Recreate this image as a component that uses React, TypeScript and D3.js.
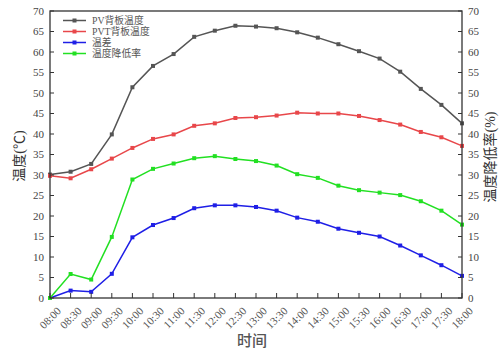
import React from "react";
import * as d3 from "d3";

const times = ["08:00","08:30","09:00","09:30","10:00","10:30","11:00","11:30","12:00","12:30","13:00","13:30","14:00","14:30","15:00","15:30","16:00","16:30","17:00","17:30","18:00"];
const pvTemp = [30.1,30.8,32.7,39.9,51.4,56.6,59.5,63.7,65.2,66.4,66.2,65.8,64.8,63.5,61.9,60.2,58.4,55.2,51.0,47.1,42.6];
const pvtTemp = [29.8,29.2,31.4,34.0,36.6,38.8,39.9,42.0,42.6,43.9,44.1,44.5,45.2,45.0,45.0,44.4,43.4,42.3,40.5,39.2,37.1];
const tempDiff = [0,1.8,1.5,5.9,14.8,17.8,19.5,21.9,22.6,22.6,22.2,21.3,19.6,18.6,16.9,15.9,15.0,12.8,10.4,8.0,5.4];
const dropRate = [0,5.85,4.5,14.9,28.9,31.5,32.8,34.1,34.6,33.9,33.4,32.3,30.2,29.3,27.4,26.3,25.7,25.1,23.6,21.3,17.9];
const yTicks = [0,5,10,15,20,25,30,35,40,45,50,55,60,65,70];

const seriesNames = ["PV背板温度","PVT背板温度","温差","温度降低率"];
const seriesColors = ["#555555","#e8474a","#1f1fe6","#22e022"];
const seriesData = [pvTemp, pvtTemp, tempDiff, dropRate];

const W = 500, H = 350;
const L = 50, R = 462, T = 11, B = 298;
const numFont = "'Liberation Serif', 'DejaVu Serif', serif";
const mixFont = "'Liberation Serif', 'Noto Sans CJK SC', serif";
const cjkFont = "'Noto Sans CJK SC', 'Liberation Serif', serif";

export default function App() {
  const x = d3.scalePoint<string>().domain(times).range([L, R]);
  const y = d3.scaleLinear().domain([0, 70]).range([B, T]);
  const line = d3.line<number>().x((_, i) => x(times[i])!).y((d) => y(d));
  const axisColor = "#333";
  return (
    <svg width={W} height={H} style={{ position: "absolute", left: 0, top: 0, background: "#fff" }}>
      {seriesData.map((s, k) => (
        <g key={k}>
          <path d={line(s)!} fill="none" stroke={seriesColors[k]} strokeWidth={1.5} />
          {s.map((v, i) => (
            <rect key={i} x={x(times[i])! - 2} y={y(v) - 2} width={4} height={4} fill={seriesColors[k]} />
          ))}
        </g>
      ))}
      <rect x={L} y={T} width={R - L} height={B - T} fill="none" stroke={axisColor} strokeWidth={1.3} />
      {yTicks.map((t) => (
        <g key={t}>
          <line x1={L} x2={L + 4} y1={y(t)} y2={y(t)} stroke={axisColor} strokeWidth={1} />
          <line x1={R} x2={R - 4} y1={y(t)} y2={y(t)} stroke={axisColor} strokeWidth={1} />
          <text x={L - 6} y={y(t)} dy="0.35em" textAnchor="end" fontSize={11} fontFamily={numFont} fill="#444">{t}</text>
          <text x={R + 6} y={y(t)} dy="0.35em" textAnchor="start" fontSize={11} fontFamily={numFont} fill="#444">{t}</text>
        </g>
      ))}
      {times.map((t) => (
        <g key={t}>
          <line x1={x(t)!} x2={x(t)!} y1={B} y2={B - 5} stroke={axisColor} strokeWidth={1} />
          <text transform={`translate(${x(t)! + 9},${B + 11}) rotate(-45)`} textAnchor="end" dy="0.35em" fontSize={11} fontFamily={numFont} fill="#555">{t}</text>
        </g>
      ))}
      <text transform={`translate(19,156) rotate(-90)`} textAnchor="middle" dy="0.35em" fontSize={14} fontFamily={mixFont} fill="#333">温度(℃)</text>
      <text transform={`translate(490,157) rotate(-90)`} textAnchor="middle" dy="0.35em" fontSize={14} fontFamily={mixFont} fill="#333">温度降低率(%)</text>
      <text x={252} y={346} textAnchor="middle" fontSize={15} fontWeight={500} fontFamily={cjkFont} fill="#555">时间</text>
      {seriesNames.map((n, k) => {
        const ly = 20.5 + k * 11;
        return (
          <g key={n}>
            <line x1={63} x2={86} y1={ly} y2={ly} stroke={seriesColors[k]} strokeWidth={1.5} />
            <rect x={72.5} y={ly - 2} width={4} height={4} fill={seriesColors[k]} />
            <text x={92} y={ly} dy="0.35em" fontSize={9.8} fontFamily={mixFont} fill="#555">{n}</text>
          </g>
        );
      })}
    </svg>
  );
}
